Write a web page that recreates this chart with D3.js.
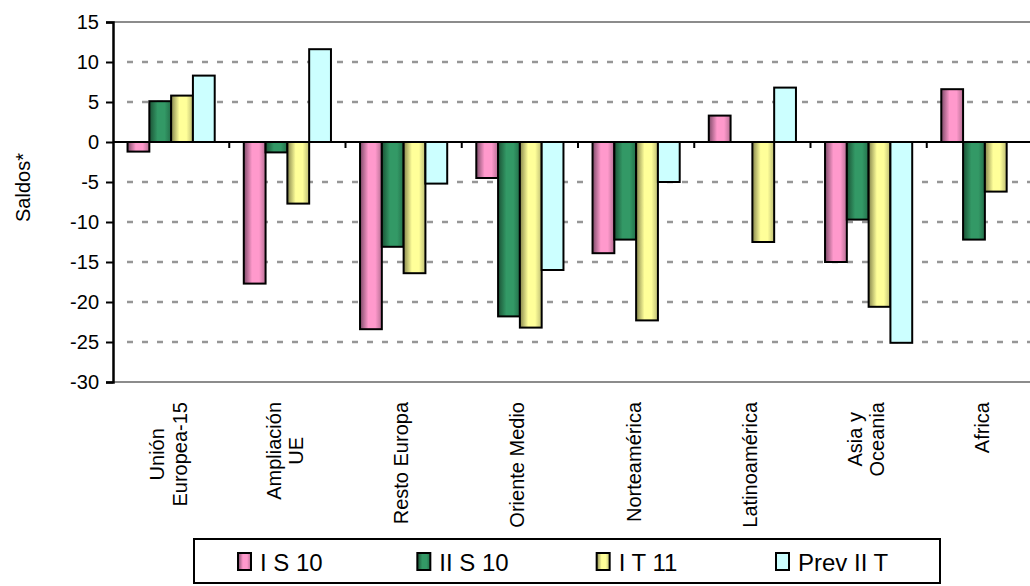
<!DOCTYPE html>
<html>
<head>
<meta charset="utf-8">
<script src="https://cdn.jsdelivr.net/npm/d3@7"></script>
<style>
  html, body { margin: 0; padding: 0; background: #fff; }
  svg { display: block; font-family: "Liberation Sans", Arial, sans-serif; }
</style>
</head>
<body>
<svg id="chart" width="1030" height="586"></svg>
<script>
// ---- data ----
const categories = ["Unión\nEuropea-15", "Ampliación\nUE", "Resto Europa", "Oriente Medio",
                    "Norteamérica", "Latinoamérica", "Asia y\nOceania", "Africa"];
const seriesNames = ["I S 10", "II S 10", "I T 11", "Prev II T"];
const valsIS10   = [-1.2, -17.7, -23.4,  -4.5, -13.9,  3.3, -15.0,  6.6];
const valsIIS10  = [ 5.1,  -1.3, -13.1, -21.8, -12.2, null,  -9.7, -12.2];
const valsIT11   = [ 5.8,  -7.7, -16.4, -23.2, -22.3, -12.5, -20.6, -6.2];
const valsPrev   = [ 8.3,  11.6,  -5.2, -16.0,  -5.0,  6.8, -25.1, null];
const yTicks = [15, 10, 5, 0, -5, -10, -15, -20, -25, -30];
const yTitle = "Saldos*";

const seriesValues = [valsIS10, valsIIS10, valsIT11, valsPrev];

// ---- layout ----
const svg = d3.select("#chart");
const plot = { left: 113, right: 1043, top: 22, bottom: 382 };
const fills = ["url(#gPink)", "url(#gGreen)", "url(#gYellow)", "#ccffff"];

// gradients
const defs = svg.append("defs");
function grad(id, dark, light, dark2) {
  const g = defs.append("linearGradient").attr("id", id)
    .attr("x1", "0%").attr("x2", "100%").attr("y1", "0%").attr("y2", "0%");
  g.append("stop").attr("offset", "0%").attr("stop-color", dark);
  g.append("stop").attr("offset", "38%").attr("stop-color", light);
  g.append("stop").attr("offset", "70%").attr("stop-color", light);
  g.append("stop").attr("offset", "100%").attr("stop-color", dark2);
}
grad("gPink", "#7d4a68", "#ff99cc", "#b66f93");
grad("gGreen", "#1b5235", "#339966", "#246f4a");
grad("gYellow", "#85854c", "#ffff99", "#bdbd74");

const x = d3.scaleBand().domain(categories).range([plot.left, plot.right]).paddingInner(0).paddingOuter(0);
const xs = d3.scaleBand().domain(seriesNames).range([0, x.bandwidth()]).paddingInner(0).paddingOuter(0.667);
const y = d3.scaleLinear().domain([-30, 15]).range([plot.bottom, plot.top]);

// gridlines (dashed)
svg.append("g").selectAll("line")
  .data(yTicks.filter(t => t !== 15 && t !== -30 && t !== 0))
  .join("line")
  .attr("x1", plot.left + 14).attr("x2", plot.right)
  .attr("y1", d => y(d)).attr("y2", d => y(d))
  .attr("stroke", "#969696").attr("stroke-width", 2.5)
  .attr("stroke-dasharray", "6,9");

// plot border top/bottom (gray)
svg.append("line").attr("x1", plot.left).attr("x2", plot.right)
  .attr("y1", y(15)).attr("y2", y(15)).attr("stroke", "#8c8c8c").attr("stroke-width", 2);
svg.append("line").attr("x1", plot.left).attr("x2", plot.right)
  .attr("y1", y(-30)).attr("y2", y(-30)).attr("stroke", "#8c8c8c").attr("stroke-width", 2);

// bars
const groups = svg.append("g").selectAll("g")
  .data(seriesNames.map((s, i) => ({ name: s, i: i })))
  .join("g");
groups.each(function (s) {
  d3.select(this).selectAll("rect")
    .data(categories.map((c, k) => ({ c: c, v: seriesValues[s.i][k] })).filter(d => d.v !== null))
    .join("rect")
    .attr("x", d => x(d.c) + xs(s.name))
    .attr("width", xs.bandwidth())
    .attr("y", d => y(Math.max(0, d.v)))
    .attr("height", d => Math.abs(y(d.v) - y(0)))
    .attr("fill", fills[s.i])
    .attr("stroke", "#000").attr("stroke-width", 2);
});

// zero line (x axis)
svg.append("line").attr("x1", plot.left).attr("x2", plot.right)
  .attr("y1", y(0)).attr("y2", y(0)).attr("stroke", "#000").attr("stroke-width", 2);
// category ticks on zero line
svg.append("g").selectAll("line")
  .data(categories.slice(1))
  .join("line")
  .attr("x1", d => x(d)).attr("x2", d => x(d))
  .attr("y1", y(0)).attr("y2", y(0) + 6)
  .attr("stroke", "#000").attr("stroke-width", 2);

// y axis
const yAxis = d3.axisLeft(y).tickValues(yTicks).tickSize(7).tickPadding(7).tickFormat(d3.format("d"));
const ya = svg.append("g").attr("transform", `translate(${plot.left},0)`).call(yAxis);
ya.select(".domain").attr("stroke", "#000").attr("stroke-width", 2.5);
ya.selectAll(".tick line").attr("stroke", "#000").attr("stroke-width", 2);
ya.selectAll(".tick text").attr("font-size", 20).attr("fill", "#000")
  .attr("font-family", "Liberation Sans, Arial, sans-serif")
  .text(d => d < 0 ? "-" + Math.abs(d) : d);

// y title
svg.append("text").attr("transform", "translate(30,187.5) rotate(-90)")
  .attr("text-anchor", "middle").attr("font-size", 20).attr("fill", "#000").text(yTitle);

// category labels (rotated)
const labelTop = 402, lineH = 22.5;
categories.forEach(c => {
  const lines = c.split("\n");
  const g = svg.append("g");
  const texts = lines.map((ln, i) => g.append("text")
    .attr("text-anchor", "middle").attr("font-size", 20).attr("fill", "#000")
    .attr("y", (i - (lines.length - 1) / 2) * lineH)
    .attr("dy", "0.22em").text(ln));
  const w = d3.max(texts, t => t.node().getComputedTextLength());
  g.attr("transform", `translate(${x(c) + x.bandwidth() / 2},${labelTop + w / 2}) rotate(-90)`);
});

// legend
const lg = svg.append("g");
lg.append("rect").attr("x", 194).attr("y", 539).attr("width", 746).attr("height", 44)
  .attr("fill", "#fff").attr("stroke", "#000").attr("stroke-width", 2);
const lx = d3.scaleLinear().domain([0, seriesNames.length - 1]).range([238, 776]);
seriesNames.forEach((s, i) => {
  lg.append("rect").attr("x", lx(i)).attr("y", 553).attr("width", 13).attr("height", 17)
    .attr("fill", fills[i]).attr("stroke", "#000").attr("stroke-width", 2);
  lg.append("text").attr("x", lx(i) + 22).attr("y", 570.5)
    .attr("font-size", 24).attr("fill", "#000").text(s);
});
</script>
</body>
</html>
